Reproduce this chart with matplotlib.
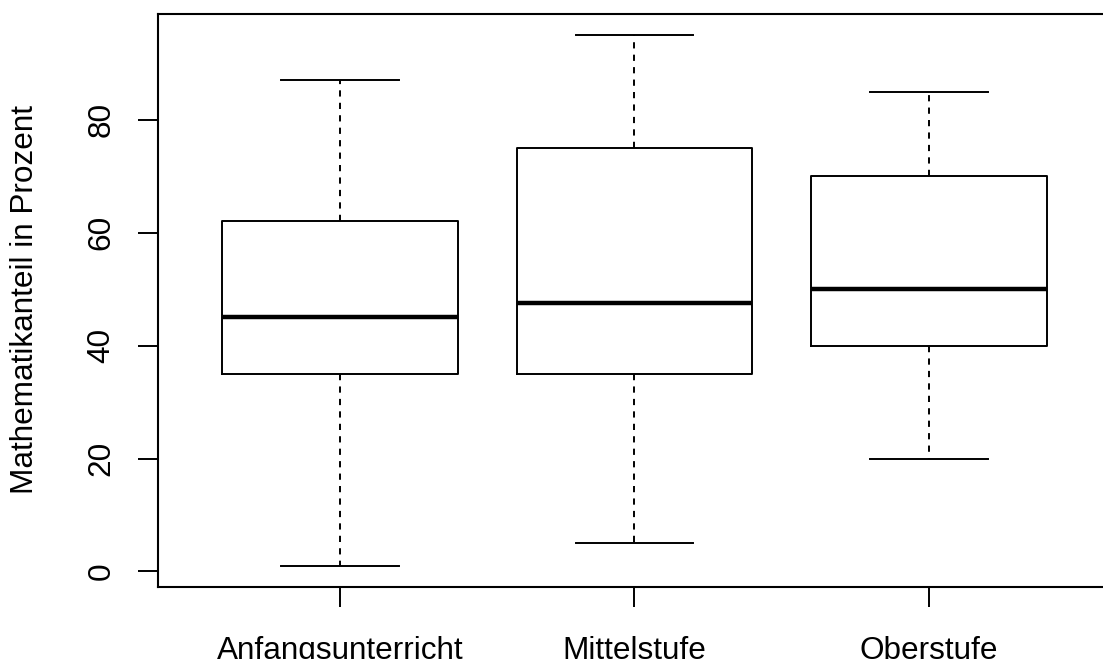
import matplotlib
matplotlib.use("Agg")
import matplotlib.pyplot as plt

stufen = ["Anfangsunterricht", "Mittelstufe", "Oberstufe"]
whisker_unten = [1, 5, 20]
q1 = [35, 35, 40]
median = [45, 47.5, 50]
q3 = [62, 75, 70]
whisker_oben = [87, 95, 85]

plt.rcParams['font.family'] = ['Liberation Sans', 'DejaVu Sans']

W, H = 1103, 659
fig = plt.figure(figsize=(W / 100, H / 100), dpi=100)
# rechter Rand liegt ausserhalb des Bildes (wie im Original abgeschnitten)
ax = fig.add_axes([157.5 / W, 1 - 587 / H, (1111.5 - 157.5) / W, (587 - 14) / H])

stats = []
for i in range(len(stufen)):
    stats.append(dict(label=stufen[i], whislo=whisker_unten[i], q1=q1[i],
                      med=median[i], q3=q3[i], whishi=whisker_oben[i], fliers=[]))

lw = 1.4
ax.bxp(stats, positions=[1, 2, 3], widths=0.8, showfliers=False,
       boxprops=dict(color='black', linewidth=lw),
       medianprops=dict(color='black', linewidth=3.2, solid_capstyle='butt'),
       whiskerprops=dict(color='black', linewidth=lw, linestyle=(0, (3.2, 3.2))),
       capprops=dict(color='black', linewidth=lw),
       capwidths=0.4)

# R-Achsenbereich: Daten +- 4 %
lo, hi = min(whisker_unten), max(whisker_oben)
d = (hi - lo) * 0.04
ax.set_ylim(lo - d, hi + d)
ax.set_xlim(0.5 - 0.12, 3.5 + 0.12)

for s in ax.spines.values():
    s.set_linewidth(1.5)

ax.set_yticks([0, 20, 40, 60, 80])
ax.set_yticklabels(["0", "20", "40", "60", "80"], rotation=90, va='center')
ax.set_xticks([1, 2, 3])
ax.set_xticklabels(stufen)
ax.tick_params(axis='both', direction='out', length=14.4, width=1.4,
               labelsize=22.7, colors='black')
ax.tick_params(axis='y', pad=15)
ax.tick_params(axis='x', pad=21)

fig.text(25 / W, 1 - 300 / H, "Mathematikanteil in Prozent", rotation=90,
         ha='center', va='center', fontsize=22.7)

fig.savefig("out.png", dpi=100)
